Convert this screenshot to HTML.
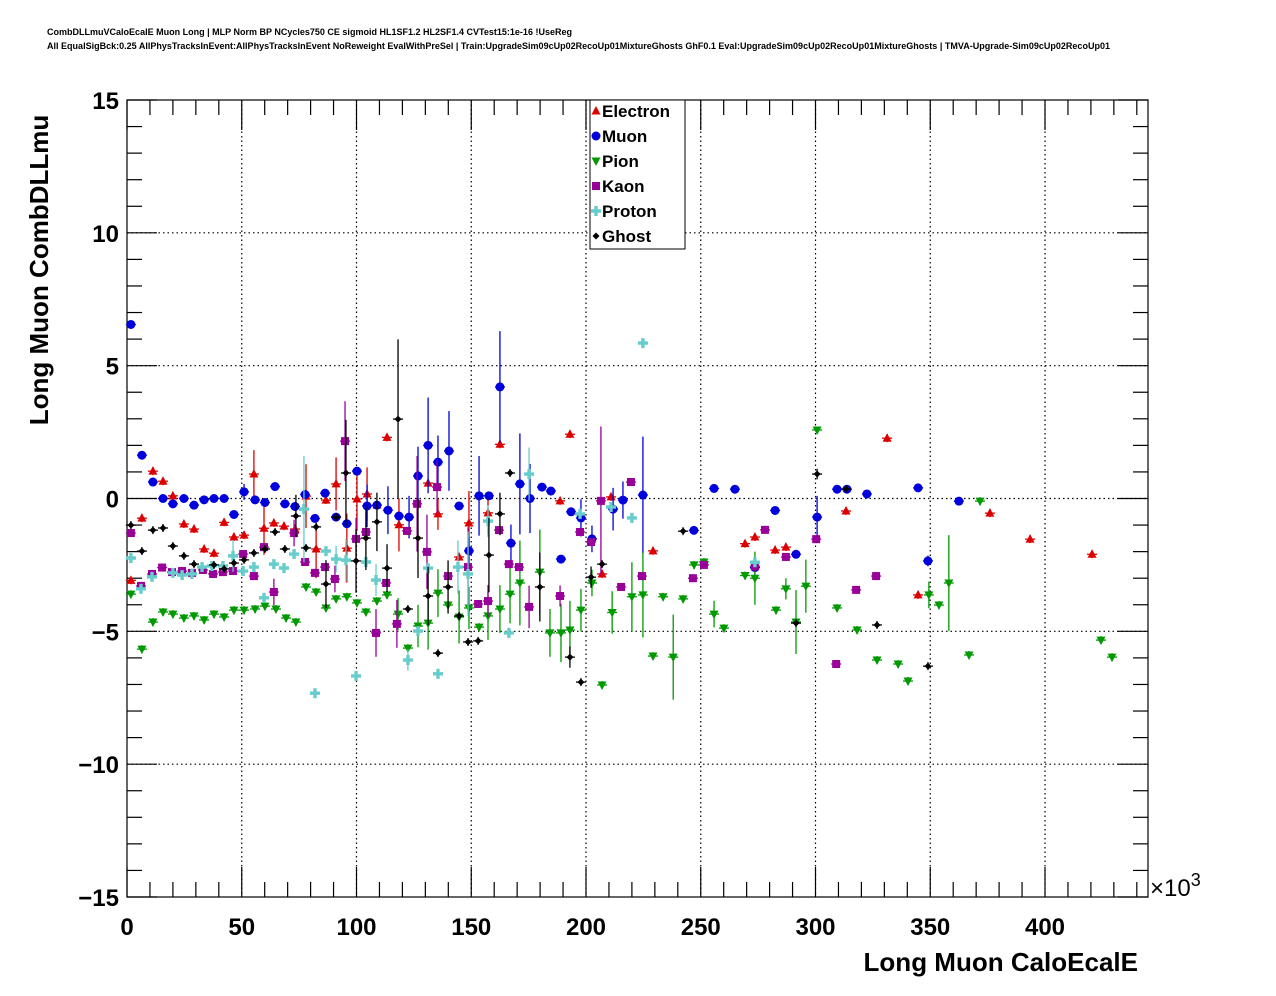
<!DOCTYPE html>
<html><head><meta charset="utf-8"><style>
body{margin:0;background:#fff;}
svg{display:block;font-family:"Liberation Sans",Arial,sans-serif;}
</style></head><body>
<svg id="chart" width="1276" height="996" viewBox="0 0 1276 996" xmlns="http://www.w3.org/2000/svg">
<rect width="1276" height="996" fill="#fff"/>
<text x="47" y="35" font-size="9" font-weight="bold" textLength="525" lengthAdjust="spacingAndGlyphs">CombDLLmuVCaloEcalE Muon Long | MLP Norm BP NCycles750 CE sigmoid HL1SF1.2 HL2SF1.4 CVTest15:1e-16 !UseReg</text>
<text x="47" y="49" font-size="9" font-weight="bold" textLength="1063" lengthAdjust="spacingAndGlyphs">All EqualSigBck:0.25 AllPhysTracksInEvent:AllPhysTracksInEvent NoReweight EvalWithPreSel | Train:UpgradeSim09cUp02RecoUp01MixtureGhosts GhF0.1 Eval:UpgradeSim09cUp02RecoUp01MixtureGhosts | TMVA-Upgrade-Sim09cUp02RecoUp01</text>
<g id="grid"></g>
<g id="axes"></g>
<g id="marks"></g>
<text transform="translate(48,270) rotate(-90)" text-anchor="middle" font-size="26" font-weight="bold">Long Muon CombDLLmu</text>
<text x="1138" y="971" text-anchor="end" font-size="26" font-weight="bold">Long Muon CaloEcalE</text>
<text x="1150" y="896" font-size="24">×10<tspan dy="-10" font-size="18">3</tspan></text>
<g id="legend">
<rect x="590" y="100" width="95" height="149" fill="#fff" stroke="#000" stroke-width="1"/>
</g>
</svg>
<script>
const xTicks=[0,50,100,150,200,250,300,350,400];
const yTicks=[-15,-10,-5,0,5,10,15];
const seriesNames=["Electron","Muon","Pion","Kaon","Proton","Ghost"];
const seriesColors=["#dd0000","#0000dd","#009900","#990099","#66cccc","#000000"];
const elecX=[1.7,6.5,11.3,15.7,20,24.8,29.2,33.6,37.9,42.3,46.6,51,55.3,59.7,64,68.4,73.2,78,82.4,86.7,91.1,95.8,100.2,104.6,108.9,113.3,118.5,131.2,135.5,144.7,149,157.3,162.5,188.7,193,207,210.9,229.2,269.3,273.6,282.4,287.1,313.3,331.2,344.7,376,393.5,420.5];
const elecY=[-3.08,-0.74,1.03,0.65,0.1,-0.96,-1.15,-1.9,-2.06,-0.9,-1.45,-1.38,0.92,-1.12,-0.92,-1.04,-1.15,0.09,-1.9,-0.06,0.55,-1.87,-0.02,0.17,-0.25,2.3,-0.99,0.58,-0.58,-2.2,-0.92,-0.54,2.04,-0.09,2.42,-2.84,0.06,-1.97,-1.7,-1.45,-1.94,-1.83,-0.47,2.27,-3.63,-0.55,-1.53,-2.1];
const muonX=[1.7,6.5,11.3,15.7,20,24.8,29.2,33.6,37.9,42.3,46.6,51,55.8,60.1,64.5,68.8,73.2,77.6,81.9,86.3,91.1,95.8,100.2,104.6,108.9,113.7,118.5,122.9,126.8,131.2,135.5,140.3,144.7,149,153.4,157.7,162.5,167.3,171.2,175.6,180.8,184.7,189.1,193.5,197.8,202.6,211.8,216.1,224.8,247,255.8,264.9,273.6,282.4,291.5,300.7,309.4,313.7,322.4,344.7,349,362.5];
const muonY=[6.55,1.63,0.62,0,-0.2,0,-0.25,-0.05,0,0,-0.6,0.25,-0.05,-0.15,0.45,-0.2,-0.3,0.15,-0.75,0.2,-0.7,-0.95,1.03,-0.28,-0.25,-0.44,-0.66,-0.7,0.85,2.0,1.37,1.79,-0.28,-1.97,0.1,0.1,4.2,-1.68,0.55,0,0.43,0.28,-2.28,-0.5,-0.73,-1.52,-0.4,-0.06,0.13,-1.2,0.38,0.35,-2.6,-0.45,-2.1,-0.7,0.35,0.35,0.17,0.4,-2.35,-0.1];
const pionX=[1.7,6.5,11.3,15.7,20,24.8,29.2,33.6,37.9,42.3,46.6,51,55.8,60.1,64.9,69.3,73.6,78,82.4,86.7,91.1,95.8,100.2,104.1,108.9,113.3,118.1,122.4,126.8,131.2,135.5,139.9,144.7,149,153.4,157.3,162.5,166.9,171.2,179.9,184.3,189.1,193,197.8,202.6,207,211.4,220,224.8,229.2,233.6,238,242.3,247.1,251.4,255.8,260.1,269.3,273.6,282.8,287.1,291.5,295.8,300.7,309.4,318.1,326.8,336,340.3,349.4,353.8,358.1,366.9,371.7,424.4,429.2];
const pionY=[-3.6,-5.67,-4.65,-4.27,-4.35,-4.5,-4.42,-4.57,-4.35,-4.46,-4.2,-4.2,-4.16,-4.05,-4.16,-4.5,-4.65,-3.33,-3.52,-4.12,-3.78,-3.7,-3.93,-4.27,-3.86,-3.63,-4.35,-5.63,-4.8,-4.69,-3.56,-4.01,-4.46,-4.12,-4.84,-4.42,-4.16,-3.6,-3.18,-2.77,-5.06,-5.06,-4.95,-4.2,-3.18,-7.02,-4.29,-3.7,-3.63,-5.93,-3.7,-5.97,-3.78,-2.5,-2.39,-4.35,-4.88,-2.9,-3.0,-4.2,-3.4,-4.65,-3.3,2.58,-4.12,-4.95,-6.08,-6.23,-6.87,-3.63,-4.01,-3.18,-5.89,-0.1,-5.33,-5.97];
const kaonX=[1.7,6.1,10.9,15.3,19.6,24,28.3,33.1,37.5,41.8,46.2,50.6,55.3,59.7,64,72.8,77.6,81.9,86.3,90.6,95,99.8,104.1,108.5,112.9,117.6,122,126.4,130.7,135.1,139.9,148.6,153,157.3,162.1,166.4,170.8,175.2,188.7,197.4,202.2,206.5,215.3,219.6,224.4,246.6,251.4,273.6,278,287.1,300.3,309,317.7,326.4];
const kaonY=[-1.3,-3.29,-2.84,-2.6,-2.77,-2.73,-2.8,-2.69,-2.84,-2.77,-2.73,-2.09,-2.92,-1.83,-3.52,-1.3,-2.39,-2.8,-2.58,-3.03,2.16,-1.52,-1.26,-5.06,-3.18,-4.72,-1.22,-0.2,-2.01,0.43,-2.92,-2.58,-3.97,-3.86,-1.19,-2.47,-2.58,-4.08,-3.67,-1.26,-1.64,-0.09,-3.33,0.62,-2.92,-3.0,-2.5,-2.55,-1.18,-2.2,-1.53,-6.23,-3.44,-2.92];
const protX=[1.7,6.1,10.9,20,24,28.3,32.7,37,41.8,46.2,50.6,55.3,59.7,64,68.4,72.8,77.1,81.9,86.7,91.1,95.4,99.8,104.1,108.5,122.4,126.8,131.2,135.5,144.2,148.6,157.3,166.4,175.2,197.4,210.9,220,224.8,273.6];
const protY=[-2.24,-3.4,-2.95,-2.8,-2.88,-2.84,-2.58,-2.54,-2.54,-2.16,-2.73,-2.58,-3.74,-2.47,-2.62,-2.09,-0.4,-7.33,-1.98,-2.28,-2.32,-6.68,-2.39,-3.07,-6.08,-4.99,-2.62,-6.6,-2.58,-2.84,-0.85,-5.06,0.92,-0.58,-0.32,-0.73,5.85,-2.4];
const ghostX=[1.7,6.5,11.3,15.7,20,24.8,29.2,37.9,42.3,46.6,51,55.3,60.1,64.5,68.8,73.6,78,82.4,86.7,91.1,95.4,99.8,104.1,108.9,113.3,118.1,122.4,126.8,131.2,135.5,139.9,144.7,148.6,153,157.7,162.5,166.9,179.9,193,197.8,202.2,207,242.3,291.5,300.7,313.3,326.8,349];
const ghostY=[-1.0,-1.98,-1.19,-1.11,-1.79,-2.16,-2.47,-2.5,-2.65,-2.43,-2.31,-2.05,-1.9,-1.26,-1.9,-0.66,-1.86,-1.07,-3.22,-0.7,0.96,-2.35,-1.49,-0.88,-2.62,2.99,-4.16,-1.49,-3.67,-5.82,-3.33,-4.42,-5.4,-5.36,-2.13,-0.58,0.96,-3.33,-5.97,-6.91,-2.96,-2.47,-1.23,-4.69,0.92,0.36,-4.76,-6.31];
const elecErr={55.3:0.9,59.7:1.0,78:1.2,82.4:1.1,91.1:1.0,95.8:1.3,100.2:1.2,104.6:1.0,118.5:1.0,135.5:0.6,149:1.2,157.3:0.8};
const muonErr={51:0.3,104.6:0.8,113.7:0.9,122.9:0.8,126.8:1.1,131.2:1.8,135.5:1.0,140.3:1.5,149:0.5,153.4:1.5,162.5:2.1,167.3:0.7,171.2:1.9,175.6:1.3,197.8:0.7,202.6:0.5,211.8:0.8,216.1:0.7,224.8:2.2,273.6:0.3,300.7:0.8,349:0.2};
const pionErr={118.1:0.6,126.8:0.8,131.2:1.0,135.5:0.9,144.7:1.0,149:0.8,157.3:0.9,162.5:0.9,166.9:1.1,171.2:1.6,179.9:1.6,184.3:0.9,189.1:1.1,193:1.1,197.8:0.8,202.6:0.5,211.4:0.8,220:1.3,224.8:1.6,238:1.6,255.8:0.5,273.6:1.0,287.1:0.4,291.5:1.2,295.8:1.0,300.7:0.1,349.4:0.5,358.1:1.8};
const kaonErr={64:0.5,72.8:0.5,90.6:0.5,95:1.5,99.8:0.8,108.5:0.9,117.6:0.9,126.4:1.8,130.7:1.4,135.1:1.0,148.6:1.5,157.3:0.6,175.2:0.8,188.7:0.4,206.5:2.8,273.6:0.2};
const protErr={46.2:0.6,77.1:2.0,91.1:0.5,95.4:0.8,108.5:0.6,122.4:0.4,144.2:1.0,148.6:1.6,157.3:0.6,175.2:1.0};
const ghostErr={73.6:0.8,86.7:0.9,95.4:2.0,99.8:1.2,104.1:1.2,108.9:1.1,113.3:0.9,118.1:3.0,126.8:1.5,131.2:1.1,139.9:1.0,157.7:1.4,162.5:0.8,179.9:1.3,193:0.4,202.2:0.4,300.7:0.2};

const X0=127,X1=1148,Y0=100,Y1=897;
const xMax=445, yMin=-15, yMax=15;
function sx(v){return X0+v*(1045-127)/400;}
function sy(v){return Y1-(v-yMin)*(Y1-Y0)/(yMax-yMin);}
const NS="http://www.w3.org/2000/svg";
function mk(tag,attrs,parent){const e=document.createElementNS(NS,tag);for(const k in attrs)e.setAttribute(k,attrs[k]);parent.appendChild(e);return e;}
const grid=document.getElementById('grid'),axes=document.getElementById('axes'),marks=document.getElementById('marks'),legend=document.getElementById('legend');

xTicks.forEach(t=>{if(t===0)return;const x=sx(t);const l=mk('line',{x1:x,x2:x,y1:Y0,y2:Y1,stroke:'#000','stroke-width':1.2,'stroke-dasharray':'1.5 3'},grid);

});
yTicks.forEach(t=>{if(t===yMin||t===yMax)return;const y=sy(t);const l=mk('line',{x1:X0,x2:X1,y1:y,y2:y,stroke:'#000','stroke-width':1.2,'stroke-dasharray':'1.5 3'},grid);

});

const fr=mk('rect',{x:X0,y:Y0,width:X1-X0,height:Y1-Y0,fill:'none',stroke:'#000','stroke-width':1.2},axes);


for(let v=0;v<=xMax;v+=10){const x=sx(v);const major=v%50===0;const len=major?30:15;
mk('line',{x1:x,x2:x,y1:Y1,y2:Y1-len,stroke:'#000','stroke-width':1.2},axes);
mk('line',{x1:x,x2:x,y1:Y0,y2:Y0+len,stroke:'#000','stroke-width':1.2},axes);}
xTicks.forEach(t=>{const tx=mk('text',{x:sx(t),y:935,'text-anchor':'middle','font-size':24,'font-weight':'bold'},axes);tx.textContent=t;

});
for(let v=yMin;v<=yMax;v+=1){const y=sy(v);const major=v%5===0;const len=major?30:15;
mk('line',{x1:X0,x2:X0+len,y1:y,y2:y,stroke:'#000','stroke-width':1.2},axes);
mk('line',{x1:X1,x2:X1-len,y1:y,y2:y,stroke:'#000','stroke-width':1.2},axes);}
yTicks.forEach(t=>{const tx=mk('text',{x:119,y:sy(t)+9,'text-anchor':'end','font-size':24,'font-weight':'bold'},axes);tx.textContent=(t<0?'\u2212'+(-t):t);

});

function marker(kind,x,y,c,parent){
 let e;
 if(kind===0) e=mk('polygon',{points:`${x},${y-5} ${x-4.5},${y+3.5} ${x+4.5},${y+3.5}`,fill:c},parent);
 else if(kind===1) e=mk('circle',{cx:x,cy:y,r:4.5,fill:c},parent);
 else if(kind===2) e=mk('polygon',{points:`${x},${y+5} ${x-4.5},${y-3.5} ${x+4.5},${y-3.5}`,fill:c},parent);
 else if(kind===3) e=mk('rect',{x:x-4,y:y-4,width:8,height:8,fill:c},parent);
 else if(kind===4) e=mk('path',{d:`M${x-1.7},${y-5}h3.4v3.3h3.3v3.4h-3.3v3.3h-3.4v-3.3h-3.3v-3.4h3.3z`,fill:c},parent);
 else e=mk('path',{d:`M${x},${y-3.5}L${x+3.5},${y}L${x},${y+3.5}L${x-3.5},${y}z`,fill:c},parent);
 return e;
}
const allX=[elecX,muonX,pionX,kaonX,protX,ghostX];
const allY=[elecY,muonY,pionY,kaonY,protY,ghostY];
const allErr=[elecErr,muonErr,pionErr,kaonErr,protErr,ghostErr];
const slugs=['electron','muon','pion','kaon','proton','ghost'];
for(let s=0;s<6;s++){
 const g=mk('g',{},marks);
 
 
 const c=seriesColors[s];
 allX[s].forEach((xv,i)=>{
  const yv=allY[s][i];const x=sx(xv),y=sy(yv);
  const er=allErr[s][xv]!==undefined?allErr[s][xv]:0.15;
  if(er>0){const ln=mk('line',{x1:x,x2:x,y1:sy(yv+er),y2:sy(yv-er),stroke:c,'stroke-width':1.3},g);
   
   }
  const hl=mk('line',{x1:x-5,x2:x+5,y1:y,y2:y,stroke:c,'stroke-width':1.3},g);
  
  
  const m=marker(s,x,y,c,g);
  
  
 });
}
seriesNames.forEach((n,i)=>{
 const y=111+i*25;
 const g=mk('g',{},legend);
 
 
 marker(i,596,y,seriesColors[i],g);
 const t=mk('text',{x:602,y:y+6,'font-size':17,'font-weight':'bold'},g);t.textContent=n;
});
</script>
</body></html>
